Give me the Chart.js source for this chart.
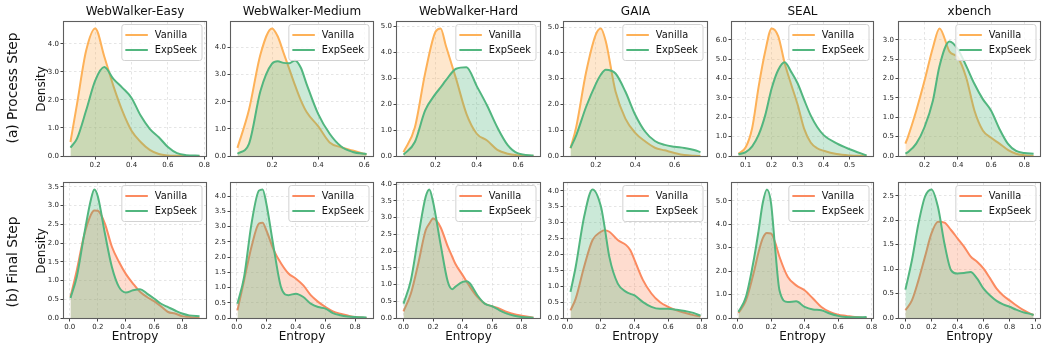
<!DOCTYPE html>
<html>
<head>
<meta charset="utf-8">
<script src="https://cdn.jsdelivr.net/npm/chart.js@4.4.1/dist/chart.umd.min.js"></script>
<style>
    body { margin: 0; background: #fff; width: 1046px; height: 349px; position: relative; overflow: hidden; font-family: "DejaVu Sans", sans-serif; }
    canvas { position: absolute; }
    .lbl { position: absolute; transform: translate(-50%, -50%); white-space: nowrap; color: #111; line-height: 1; }
    .rot { transform: translate(-50%, -50%) rotate(-90deg); }
</style>
</head>
<body>
<script>
const benchmarks = ['WebWalker-Easy', 'WebWalker-Medium', 'WebWalker-Hard', 'GAIA', 'SEAL', 'xbench'];
const seriesNames = ['Vanilla', 'ExpSeek'];
const rowLabels = ['(a) Process Step', '(b) Final Step'];
const xTitle = 'Entropy';
const yTitle = 'Density';

// (a) process step: entropy grid + density of each method, one list per benchmark
const processEntropy = [
    [0.064, 0.1, 0.15, 0.2, 0.25, 0.3, 0.35, 0.4, 0.45, 0.5, 0.55, 0.6, 0.65, 0.7, 0.774],
    [0.05, 0.1, 0.15, 0.2, 0.225, 0.25, 0.275, 0.3, 0.325, 0.35, 0.4, 0.45, 0.5, 0.55, 0.61],
    [0.045, 0.1, 0.15, 0.2, 0.225, 0.25, 0.3, 0.35, 0.4, 0.45, 0.5, 0.55, 0.6, 0.675],
    [0.071, 0.1, 0.15, 0.2, 0.225, 0.25, 0.3, 0.35, 0.4, 0.45, 0.5, 0.55, 0.6, 0.65, 0.7, 0.732],
    [0.072, 0.1, 0.125, 0.15, 0.175, 0.2, 0.225, 0.25, 0.275, 0.3, 0.325, 0.35, 0.375, 0.4, 0.45, 0.5, 0.565],
    [0.085, 0.1, 0.15, 0.2, 0.25, 0.29, 0.35, 0.4, 0.45, 0.5, 0.55, 0.6, 0.65, 0.7, 0.75, 0.8, 0.855],
];
const processVanilla = [
    [0.5, 1.85, 3.75, 4.55, 3.55, 2.5, 1.6, 0.9, 0.5, 0.22, 0.07, 0.02, 0.01, 0, 0],
    [0.3, 1.7, 3.75, 4.7, 4.4, 3.8, 3.2, 2.6, 2.05, 1.62, 1.1, 0.5, 0.32, 0.2, 0.05],
    [0.15, 1.1, 3.2, 4.8, 4.93, 4.27, 2.98, 1.63, 0.86, 0.6, 0.24, 0.09, 0.03, 0],
    [0.3, 1.12, 3.24, 4.72, 4.95, 4.46, 2.5, 1.45, 0.9, 0.57, 0.32, 0.22, 0.12, 0.04, 0.01, 0],
    [0.12, 0.45, 1.45, 3.6, 5.4, 6.6, 6.2, 4.8, 3.7, 2.65, 1.4, 0.7, 0.4, 0.27, 0.1, 0.03, 0],
    [0.32, 0.49, 1.17, 1.95, 2.8, 3.3, 2.7, 2.55, 2.03, 1.17, 0.66, 0.47, 0.32, 0.16, 0.06, 0.02, 0],
];
const processExpSeek = [
    [0.3, 0.62, 1.62, 2.69, 3.17, 2.75, 2.43, 2.07, 1.44, 0.97, 0.67, 0.32, 0.1, 0.03, 0.01],
    [0.08, 0.45, 2.4, 3.4, 3.49, 3.43, 3.42, 3.52, 3.25, 2.65, 1.55, 0.82, 0.35, 0.15, 0.07],
    [0.05, 0.54, 1.76, 2.4, 2.65, 2.92, 3.37, 3.43, 2.7, 1.95, 1.1, 0.42, 0.1, 0.02],
    [0.31, 0.8, 1.9, 2.8, 3.15, 3.35, 3.2, 2.5, 1.6, 0.95, 0.58, 0.43, 0.36, 0.31, 0.23, 0.15],
    [0.09, 0.2, 0.5, 1.1, 2.1, 3.5, 4.45, 4.85, 4.35, 3.75, 2.9, 2.1, 1.5, 1.08, 0.65, 0.35, 0.03],
    [0.06, 0.1, 0.32, 0.75, 1.43, 2.33, 2.96, 2.76, 2.33, 1.86, 1.47, 1.17, 0.7, 0.32, 0.13, 0.08, 0.06],
];

// (b) final step
const finalEntropy = [
    [0.005, 0.05, 0.1, 0.15, 0.175, 0.2, 0.25, 0.3, 0.35, 0.4, 0.45, 0.5, 0.55, 0.6, 0.65, 0.7, 0.75, 0.8, 0.85, 0.924],
    [0.005, 0.05, 0.1, 0.15, 0.175, 0.2, 0.25, 0.3, 0.35, 0.4, 0.45, 0.5, 0.55, 0.6, 0.65, 0.7, 0.75, 0.8, 0.877],
    [0.0, 0.05, 0.1, 0.15, 0.175, 0.2, 0.25, 0.3, 0.33, 0.35, 0.4, 0.43, 0.45, 0.5, 0.55, 0.6, 0.65, 0.7, 0.75, 0.8, 0.88],
    [0.019, 0.05, 0.1, 0.15, 0.2, 0.22, 0.25, 0.3, 0.35, 0.375, 0.4, 0.45, 0.5, 0.55, 0.6, 0.65, 0.7, 0.75, 0.792],
    [0.005, 0.05, 0.1, 0.125, 0.15, 0.175, 0.2, 0.225, 0.25, 0.3, 0.35, 0.4, 0.45, 0.5, 0.55, 0.6, 0.65, 0.7, 0.77],
    [0.0, 0.05, 0.1, 0.15, 0.2, 0.25, 0.3, 0.35, 0.4, 0.45, 0.5, 0.55, 0.6, 0.65, 0.7, 0.75, 0.8, 0.85, 0.9, 0.95, 0.984],
];
const finalVanilla = [
    [0.56, 1.27, 2.17, 2.75, 2.87, 2.86, 2.52, 1.9, 1.5, 1.17, 0.92, 0.7, 0.56, 0.45, 0.31, 0.16, 0.12, 0.05, 0.03, 0.0],
    [0.25, 1.24, 2.34, 3.1, 3.13, 2.88, 2.23, 1.79, 1.46, 1.29, 1.07, 0.75, 0.53, 0.36, 0.22, 0.14, 0.08, 0.03, 0.0],
    [0.2, 0.73, 1.63, 2.62, 2.82, 2.97, 2.72, 2.13, 1.83, 1.63, 1.28, 1.07, 0.93, 0.63, 0.43, 0.35, 0.28, 0.18, 0.11, 0.07, 0.01],
    [0.24, 0.61, 1.61, 2.45, 2.71, 2.76, 2.71, 2.45, 2.29, 2.13, 1.82, 1.19, 0.77, 0.5, 0.35, 0.24, 0.16, 0.09, 0.05],
    [0.21, 0.75, 2.04, 2.8, 3.39, 3.62, 3.6, 3.2, 2.61, 1.75, 1.39, 1.18, 0.83, 0.47, 0.26, 0.14, 0.09, 0.04, 0.0],
    [0.16, 0.36, 0.77, 1.25, 1.73, 1.97, 1.95, 1.8, 1.63, 1.46, 1.26, 1.15, 1.01, 0.81, 0.6, 0.46, 0.36, 0.26, 0.17, 0.1, 0.06],
];
const finalExpSeek = [
    [0.53, 1.1, 2.17, 3.15, 3.43, 3.24, 2.26, 1.36, 0.83, 0.68, 0.74, 0.77, 0.65, 0.52, 0.38, 0.29, 0.2, 0.12, 0.07, 0.05],
    [0.47, 1.35, 3.1, 4.18, 4.22, 3.76, 2.3, 1.0, 0.75, 0.8, 0.69, 0.47, 0.36, 0.31, 0.16, 0.09, 0.05, 0.03, 0.02],
    [0.43, 1.13, 2.43, 3.62, 3.84, 3.47, 2.23, 1.08, 0.86, 0.93, 1.08, 1.1, 1.03, 0.68, 0.43, 0.35, 0.23, 0.13, 0.07, 0.03, 0.01],
    [0.82, 1.61, 3.18, 4.04, 3.5, 2.92, 1.92, 1.08, 0.82, 0.76, 0.71, 0.5, 0.35, 0.29, 0.29, 0.26, 0.22, 0.16, 0.07],
    [0.26, 0.9, 2.61, 3.7, 4.89, 5.48, 4.89, 2.9, 1.18, 0.68, 0.71, 0.47, 0.36, 0.33, 0.19, 0.09, 0.04, 0.03, 0.04],
    [0.58, 1.18, 1.93, 2.48, 2.63, 2.27, 1.52, 0.98, 0.91, 0.92, 0.94, 0.81, 0.6, 0.46, 0.35, 0.28, 0.23, 0.17, 0.12, 0.09, 0.06],
];

// tick spacing per panel
const processXStep = [0.2, 0.2, 0.2, 0.2, 0.1, 0.2];
const processYStep = [1, 1, 1, 1, 1, 0.5];
const finalXStep = [0.2, 0.2, 0.2, 0.2, 0.2, 0.2];
const finalYStep = [0.5, 0.5, 0.5, 0.5, 1, 0.5];

// plot boxes on the page
const colLeft = [64, 231, 397, 564, 732, 899];
const colRight = [206, 373, 540, 707, 873, 1040];
const rowTop = [22, 183];
const rowBottom = [156, 318];

const Y_AXIS_W = 34, PAD_TOP = 8, PAD_RIGHT = 14, X_AXIS_H = 20;

const green = '#52b67f';
const rows = [
    { x: processEntropy, van: processVanilla, exp: processExpSeek, xStep: processXStep, yStep: processYStep, orange: [253, 177, 88] },
    { x: finalEntropy, van: finalVanilla, exp: finalExpSeek, xStep: finalXStep, yStep: finalYStep, orange: [251, 138, 96] },
];

Chart.defaults.font.family = '"DejaVu Sans", sans-serif';

const rgba = (c, a) => `rgba(${c[0]},${c[1]},${c[2]},${a})`;

function stepTicks(min, max, step) {
    const out = [];
    for (let v = Math.ceil(min / step - 1e-9) * step; v <= max + 1e-9; v += step) {
        out.push({ value: Math.round(v * 1000) / 1000 });
    }
    return out;
}

// legend box in the upper right corner of the plot
const boxLegend = {
    id: 'boxLegend',
    afterDatasetsDraw(chart) {
        const { ctx, chartArea: a } = chart;
        const items = chart.data.datasets;
        ctx.save();
        ctx.font = '9.8px "DejaVu Sans"';
        const tw = Math.max(...items.map(d => ctx.measureText(d.label).width));
        const w = 33 + tw + 5, h = 36;
        const x = a.right - 4 - w, y = a.top + 2.5;
        ctx.beginPath();
        ctx.roundRect(x, y, w, h, 2.5);
        ctx.fillStyle = 'rgba(255,255,255,0.8)';
        ctx.fill();
        ctx.strokeStyle = '#d2d2d2';
        ctx.lineWidth = 1;
        ctx.stroke();
        items.forEach((d, i) => {
            const cy = y + 10.5 + i * 15;
            ctx.strokeStyle = d.borderColor;
            ctx.lineWidth = 2;
            ctx.beginPath();
            ctx.moveTo(x + 3.5, cy);
            ctx.lineTo(x + 26, cy);
            ctx.stroke();
            ctx.fillStyle = '#111';
            ctx.textBaseline = 'middle';
            ctx.fillText(d.label, x + 33, cy + 0.5);
        });
        ctx.restore();
    }
};

// four spines round the plot
const frame = {
    id: 'frame',
    afterDraw(chart) {
        const { ctx, chartArea: a } = chart;
        ctx.save();
        ctx.strokeStyle = '#5e5e5e';
        ctx.lineWidth = 1.1;
        ctx.strokeRect(a.left - 0.5, a.top - 0.5, a.right - a.left + 1, a.bottom - a.top + 1);
        ctx.restore();
    }
};

function addLabel(text, cx, cy, size, rotate) {
    const el = document.createElement('div');
    el.className = rotate ? 'lbl rot' : 'lbl';
    el.textContent = text;
    el.style.left = cx + 'px';
    el.style.top = cy + 'px';
    el.style.fontSize = size + 'px';
    document.body.appendChild(el);
}

function addPanel(r, c) {
    const row = rows[r];
    const xs = row.x[c];
    const van = row.van[c];
    const exp = row.exp[c];

    const lo = Math.min(...xs), hi = Math.max(...xs);
    const xMin = lo - 0.05 * (hi - lo), xMax = hi + 0.05 * (hi - lo);
    const yMax = 1.05 * Math.max(...van, ...exp);

    const plotW = colRight[c] - colLeft[c];
    const plotH = rowBottom[r] - rowTop[r];
    const canvas = document.createElement('canvas');
    canvas.width = plotW + Y_AXIS_W + PAD_RIGHT;
    canvas.height = plotH + PAD_TOP + X_AXIS_H;
    canvas.style.left = (colLeft[c] - Y_AXIS_W) + 'px';
    canvas.style.top = (rowTop[r] - PAD_TOP) + 'px';
    document.body.appendChild(canvas);

    const tickFont = { size: 7 };
    const grid = { color: '#dedede', lineWidth: 0.8, tickLength: 3.5, tickColor: '#444', tickWidth: 1 };

    new Chart(canvas, {
        type: 'line',
        data: {
            datasets: [
                {
                    label: seriesNames[0],
                    data: xs.map((x, i) => ({ x, y: van[i] })),
                    borderColor: rgba(row.orange, 1),
                    backgroundColor: rgba(row.orange, 0.3),
                    order: 2,
                },
                {
                    label: seriesNames[1],
                    data: xs.map((x, i) => ({ x, y: exp[i] })),
                    borderColor: green,
                    backgroundColor: 'rgba(82,182,127,0.3)',
                    order: 1,
                },
            ].map(d => Object.assign(d, {
                fill: 'origin',
                borderWidth: 2,
                pointRadius: 0,
                cubicInterpolationMode: 'monotone',
            })),
        },
        options: {
            responsive: false,
            animation: false,
            events: [],
            layout: { padding: { left: 0, top: PAD_TOP, right: PAD_RIGHT, bottom: 0 } },
            plugins: { legend: { display: false }, tooltip: { enabled: false } },
            scales: {
                x: {
                    type: 'linear',
                    min: xMin,
                    max: xMax,
                    grid: grid,
                    border: { display: false, dash: [2.5, 2.5] },
                    ticks: { color: '#222', font: tickFont, padding: 1.5, maxRotation: 0, autoSkip: false, callback: v => v.toFixed(1) },
                    afterBuildTicks: s => { s.ticks = stepTicks(xMin, xMax, row.xStep[c]); },
                    afterFit: s => { s.height = X_AXIS_H; },
                },
                y: {
                    min: 0,
                    max: yMax,
                    grid: grid,
                    border: { display: false, dash: [2.5, 2.5] },
                    ticks: { color: '#222', font: tickFont, padding: 1.5, autoSkip: false, callback: v => v.toFixed(1) },
                    afterBuildTicks: s => { s.ticks = stepTicks(0, yMax, row.yStep[c]); },
                    afterFit: s => { s.width = Y_AXIS_W; },
                },
            },
        },
        plugins: [boxLegend, frame],
    });
}

for (let r = 0; r < 2; r++) {
    for (let c = 0; c < benchmarks.length; c++) addPanel(r, c);
}

benchmarks.forEach((name, c) => addLabel(name, (colLeft[c] + colRight[c]) / 2, 11, 12));
benchmarks.forEach((name, c) => addLabel(xTitle, (colLeft[c] + colRight[c]) / 2, 336, 12));
rowTop.forEach((top, r) => addLabel(yTitle, 40.5, (top + rowBottom[r]) / 2, 12, true));
addLabel(rowLabels[0], 12.5, 87.5, 13.7, true);
addLabel(rowLabels[1], 12.5, 262, 13.7, true);
</script>
</body>
</html>
